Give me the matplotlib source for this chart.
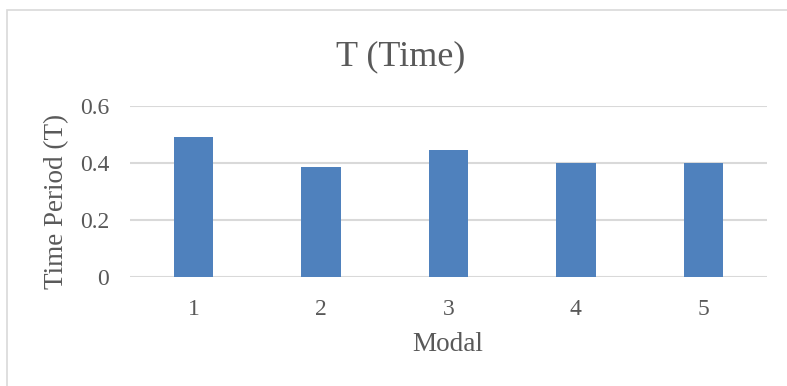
import matplotlib.pyplot as plt
from matplotlib.patches import Rectangle

# dados do gráfico
modais = ['1', '2', '3', '4', '5']
periodos = [0.492, 0.387, 0.446, 0.399, 0.400]
yticks = [0, 0.2, 0.4, 0.6]
ytick_labels = ['0', '0.2', '0.4', '0.6']

plt.rcParams['font.family'] = ['Liberation Serif', 'DejaVu Serif']

fig = plt.figure(figsize=(7.87, 3.86), dpi=100)
ax = fig.add_axes([130 / 787, 1 - 277 / 386, 637 / 787, 171 / 386])

# moldura cinza do gráfico (só aparecem as bordas esquerda e superior)
fig.patches.append(Rectangle((7 / 787, -0.05), 1.2, 1 - 10 / 386 + 0.05,
                             transform=fig.transFigure, fill=False,
                             edgecolor='#d9d9d9', linewidth=1.2))

x = range(len(modais))
ax.bar(x, periodos, width=0.31, color='#4f81bd', zorder=3)

ax.set_xlim(-0.5, len(modais) - 0.5)
ax.set_ylim(0, 0.6)
ax.set_xticks(list(x))
ax.set_xticklabels(modais)
ax.set_yticks(yticks)
ax.set_yticklabels(ytick_labels)
ax.grid(axis='y', color='#d9d9d9', linewidth=1.5, zorder=0)
ax.set_axisbelow(True)
for s in ax.spines.values():
    s.set_visible(False)
ax.tick_params(length=0, labelsize=17, colors='#595959')
ax.tick_params(axis='x', pad=15.5)
ax.tick_params(axis='y', pad=15)

# rótulos dos eixos e título
fig.text(448 / 787, 1 - 351 / 386, 'Modal', fontsize=19.5, color='#595959',
         ha='center', va='baseline')
fig.text(57 / 787, 1 - 201 / 386, 'Time Period (T)', fontsize=19.5,
         color='#595959', rotation=90, ha='center', va='center')
fig.text(401 / 787, 1 - 65 / 386, 'T (Time)', fontsize=26, color='#595959',
         ha='center', va='baseline')

fig.savefig('out.png', dpi=100, facecolor='white')
